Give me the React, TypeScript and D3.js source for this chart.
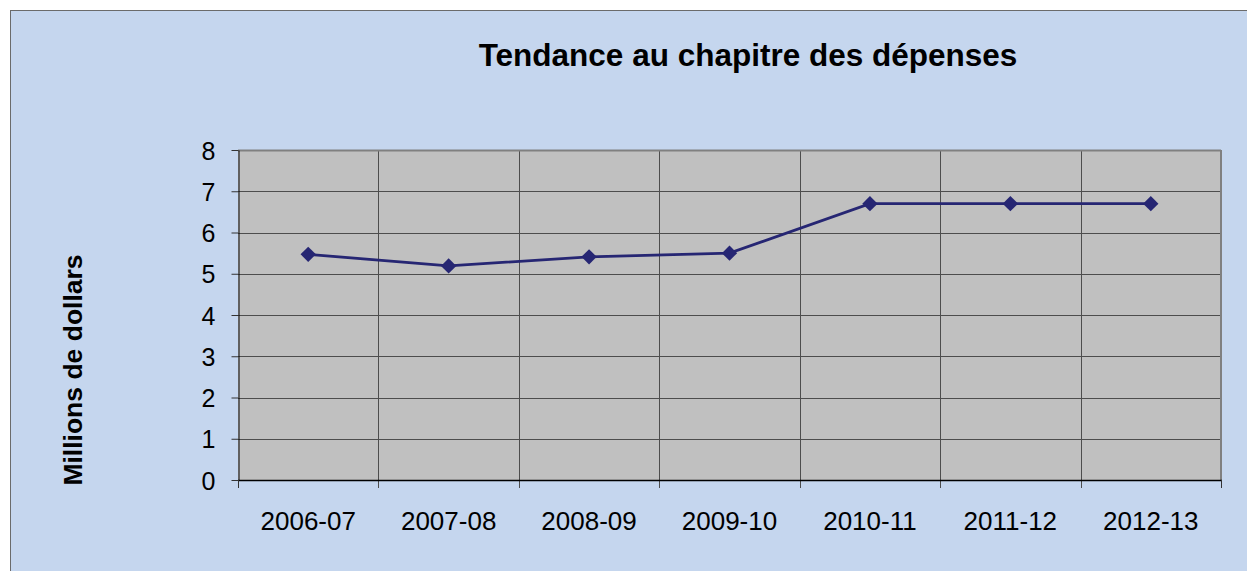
import React, { useEffect, useRef } from 'react';
import * as d3 from 'd3';

const categories = ['2006-07', '2007-08', '2008-09', '2009-10', '2010-11', '2011-12', '2012-13'];
const spending = [5.47, 5.19, 5.41, 5.5, 6.7, 6.7, 6.7];
const yTicks = [0, 1, 2, 3, 4, 5, 6, 7, 8];

const W = 1247;
const H = 571;
const plot = { left: 238, top: 150, right: 1221, bottom: 480 };
const font = '"Liberation Sans", Arial, sans-serif';

export default function App() {
  const ref = useRef<SVGSVGElement>(null);

  useEffect(() => {
    const svg = d3.select(ref.current);
    svg.selectAll('*').remove();

    const x = d3.scaleBand().domain(categories).range([plot.left, plot.right]);
    const y = d3.scaleLinear().domain([0, 8]).range([plot.bottom, plot.top]);

    // outer chart area
    svg.append('rect')
      .attr('x', 10.5).attr('y', 10.5)
      .attr('width', W).attr('height', H)
      .attr('fill', '#c5d6ee').attr('stroke', '#6b6b6b').attr('stroke-width', 1);

    // plot area
    svg.append('rect')
      .attr('x', plot.left).attr('y', plot.top)
      .attr('width', plot.right - plot.left).attr('height', plot.bottom - plot.top)
      .attr('fill', '#c0c0c0');

    // horizontal gridlines
    svg.append('g').selectAll('line').data(yTicks.slice(1, -1)).join('line')
      .attr('x1', plot.left).attr('x2', plot.right)
      .attr('y1', d => Math.round(y(d)) + 0.5).attr('y2', d => Math.round(y(d)) + 0.5)
      .attr('stroke', '#4d4d4d').attr('stroke-width', 1);

    // vertical gridlines at band boundaries
    svg.append('g').selectAll('line').data(categories.slice(1)).join('line')
      .attr('x1', d => Math.round(x(d)!) + 0.5).attr('x2', d => Math.round(x(d)!) + 0.5)
      .attr('y1', plot.top).attr('y2', plot.bottom + 8)
      .attr('stroke', '#4d4d4d').attr('stroke-width', 1);

    // plot border (top/right gray)
    svg.append('line')
      .attr('x1', plot.left).attr('x2', plot.right)
      .attr('y1', plot.top + 0.5).attr('y2', plot.top + 0.5)
      .attr('stroke', '#808080').attr('stroke-width', 2);
    svg.append('line')
      .attr('x1', plot.right).attr('x2', plot.right)
      .attr('y1', plot.top).attr('y2', plot.bottom)
      .attr('stroke', '#808080').attr('stroke-width', 2);

    // y axis
    const yAxis = svg.append('g')
      .attr('transform', `translate(${plot.left + 0.5},0)`)
      .call(d3.axisLeft(y).tickValues(yTicks).tickSize(7).tickPadding(16).tickSizeOuter(0));
    yAxis.select('.domain').attr('stroke', '#000');
    yAxis.selectAll('.tick line').attr('stroke', '#333');
    yAxis.selectAll('.tick text')
      .attr('font-family', font).attr('font-size', 25).attr('fill', '#000').attr('dy', '0.36em');

    // x axis
    svg.append('line')
      .attr('x1', plot.left).attr('x2', plot.right + 1)
      .attr('y1', plot.bottom + 0.5).attr('y2', plot.bottom + 0.5)
      .attr('stroke', '#000').attr('stroke-width', 1.5);
    svg.append('g').selectAll('line').data([plot.left, plot.right]).join('line')
      .attr('x1', d => d + 0.5).attr('x2', d => d + 0.5)
      .attr('y1', plot.bottom).attr('y2', plot.bottom + 8)
      .attr('stroke', '#333');
    svg.append('g').selectAll('text').data(categories).join('text')
      .attr('x', d => x(d)! + x.bandwidth() / 2)
      .attr('y', 530)
      .attr('text-anchor', 'middle')
      .attr('font-family', font).attr('font-size', 26).attr('fill', '#000')
      .text(d => d);

    // line
    const line = d3.line<number>()
      .x((_, i) => x(categories[i])! + x.bandwidth() / 2)
      .y(d => y(d));
    svg.append('path').datum(spending)
      .attr('d', line)
      .attr('fill', 'none').attr('stroke', '#262673').attr('stroke-width', 2.8);

    svg.append('g').selectAll('path').data(spending).join('path')
      .attr('transform', (d, i) => `translate(${x(categories[i])! + x.bandwidth() / 2},${y(d)})`)
      .attr('d', d3.symbol(d3.symbolDiamond2, 150)())
      .attr('fill', '#262673');

    // title
    svg.append('text')
      .attr('x', 748).attr('y', 66)
      .attr('text-anchor', 'middle')
      .attr('font-family', font).attr('font-size', 31.5).attr('font-weight', 'bold')
      .text('Tendance au chapitre des dépenses');

    // y label
    svg.append('text')
      .attr('transform', 'translate(82,370) rotate(-90)')
      .attr('text-anchor', 'middle')
      .attr('font-family', font).attr('font-size', 26.5).attr('font-weight', 'bold')
      .text('Millions de dollars');
  }, []);

  return (
    <svg ref={ref} width={W} height={H}
      style={{ position: 'absolute', left: 0, top: 0, display: 'block' }} />
  );
}
